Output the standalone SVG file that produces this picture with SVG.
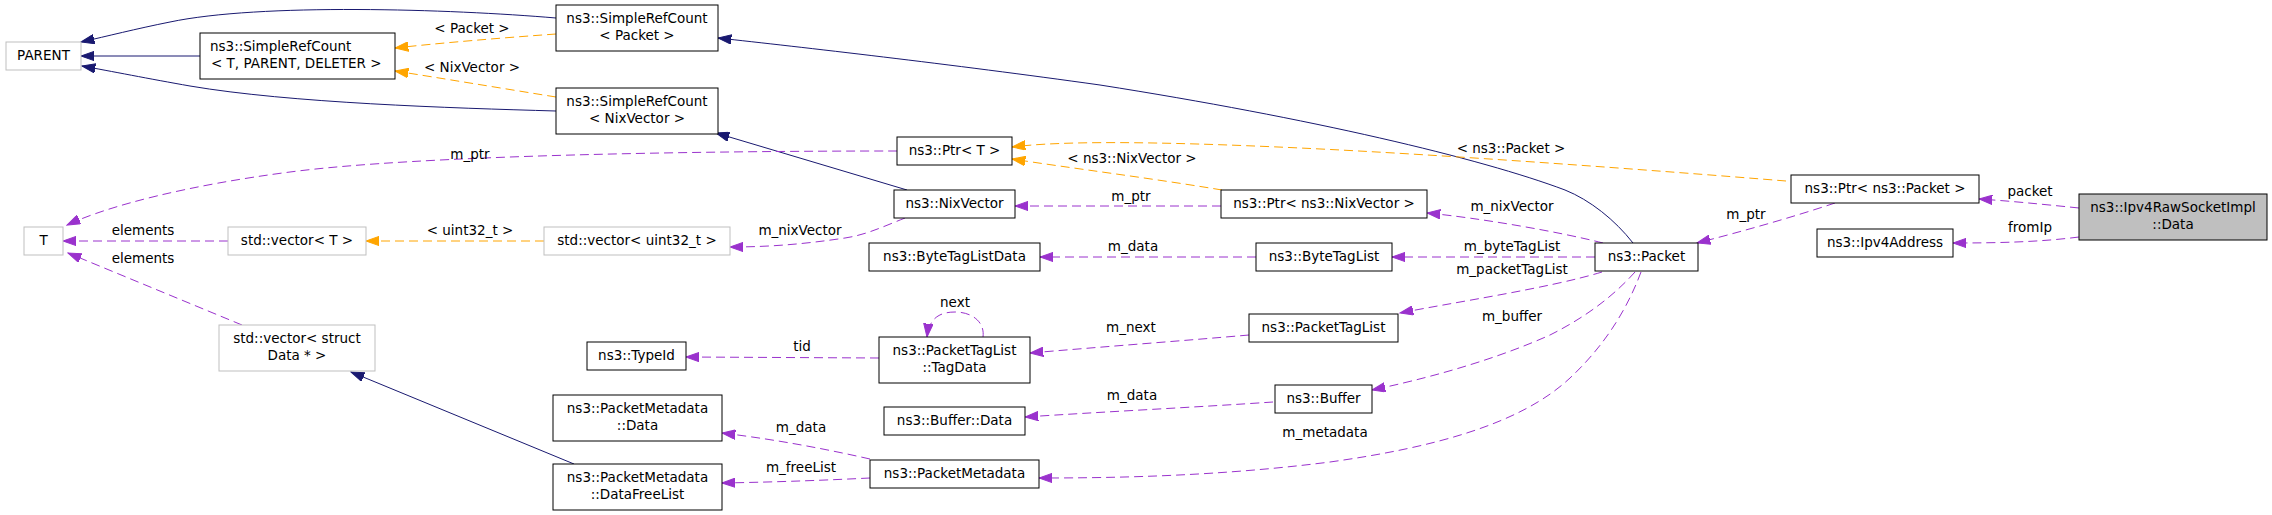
<svg xmlns="http://www.w3.org/2000/svg" width="2272" height="515" viewBox="0 0 2272 515">
<style>
text{font-family:"DejaVu Sans","Liberation Sans",sans-serif;font-size:13.5px;fill:#000}
.n rect{fill:#fff;stroke:#000;stroke-width:1}
.g rect{fill:#fff;stroke:#bfbfbf;stroke-width:1}
.m rect{fill:#bfbfbf;stroke:#000;stroke-width:1}
.n text,.g text,.m text,.lbl{text-anchor:middle}
.inh{fill:none;stroke:#191970;stroke-width:1;marker-end:url(#aN)}
.use{fill:none;stroke:#9a32cd;stroke-width:1;stroke-dasharray:9,5;marker-end:url(#aP)}
.tpl{fill:none;stroke:#ffa500;stroke-width:1;stroke-dasharray:9,5;marker-end:url(#aO)}
</style>
<defs>
<marker id="aN" markerUnits="userSpaceOnUse" viewBox="0 -5 14 10" markerWidth="14" markerHeight="10" refX="13.3" refY="0" orient="auto"><path d="M0,-4.7L13.3,0L0,4.7z" fill="#191970" stroke="#191970" stroke-width="1"/></marker>
<marker id="aP" markerUnits="userSpaceOnUse" viewBox="0 -5 14 10" markerWidth="14" markerHeight="10" refX="13.3" refY="0" orient="auto"><path d="M0,-4.7L13.3,0L0,4.7z" fill="#9a32cd" stroke="#9a32cd" stroke-width="1"/></marker>
<marker id="aO" markerUnits="userSpaceOnUse" viewBox="0 -5 14 10" markerWidth="14" markerHeight="10" refX="13.3" refY="0" orient="auto"><path d="M0,-4.7L13.3,0L0,4.7z" fill="#ffa500" stroke="#ffa500" stroke-width="1"/></marker>
</defs>
<rect width="2272" height="515" fill="#fff"/>
<g id="connectors">
<path class="inh" d="M200,56L81,56"/>
<path class="inh" d="M556,18C450,9 260,3 170,22C135,29 108,36 81,42"/>
<path class="inh" d="M556,111C450,108 290,103 190,86C150,79 110,71 82,66"/>
<path class="inh" d="M1633,243C1615,220 1590,200 1565,190C1480,158 1310,118 1100,85C950,64 800,47 718,38"/>
<path class="inh" d="M907,190L716,133"/>
<path class="inh" d="M574,464L351,372"/>
<path class="tpl" d="M556,34C500,38 440,43 395,48"/>
<path class="tpl" d="M556,97C500,88 440,78 395,71"/>
<path class="tpl" d="M1222,190C1150,178 1070,168 1012,159"/>
<path class="tpl" d="M1786,181C1650,170 1450,155 1300,148C1150,141 1060,141 1012,147"/>
<path class="tpl" d="M544,241L366,241"/>
<path class="use" d="M897,151C700,151 420,155 290,172C190,185 110,205 67,225"/>
<path class="use" d="M1221,206L1015,206"/>
<path class="use" d="M905,218C880,228 865,235 845,238C805,244 770,247 730,247"/>
<path class="use" d="M228,241L63,241"/>
<path class="use" d="M242,325L68,253"/>
<path class="use" d="M879,358L686,357"/>
<path class="use" d="M983,337C985,322 972,312 955,312C940,312 929,318 927,337"/>
<path class="use" d="M1249,335C1180,341 1100,347 1030,353"/>
<path class="use" d="M1273,402C1200,407 1100,412 1025,417"/>
<path class="use" d="M870,459C830,450 780,440 722,433"/>
<path class="use" d="M870,478C830,480 780,482 722,483"/>
<path class="use" d="M1256,257L1040,257"/>
<path class="use" d="M1603,243C1560,232 1480,218 1427,213"/>
<path class="use" d="M1595,257L1392,257"/>
<path class="use" d="M1602,272C1550,288 1450,303 1400,313"/>
<path class="use" d="M1635,272C1610,300 1580,320 1550,335C1490,362 1420,380 1372,390"/>
<path class="use" d="M1641,272C1625,315 1600,350 1570,378C1520,425 1430,448 1330,462C1220,476 1120,478 1039,478"/>
<path class="use" d="M1835,203C1790,218 1740,232 1697,243"/>
<path class="use" d="M2079,208C2040,204 2010,201 1979,199"/>
<path class="use" d="M2079,237C2040,242 2000,243 1953,243"/>
<text class="lbl" x="472" y="33">&lt; Packet &gt;</text>
<text class="lbl" x="472" y="72">&lt; NixVector &gt;</text>
<text class="lbl" x="1132" y="163">&lt; ns3::NixVector &gt;</text>
<text class="lbl" x="1511" y="153">&lt; ns3::Packet &gt;</text>
<text class="lbl" x="470" y="235">&lt; uint32_t &gt;</text>
<text class="lbl" x="470" y="159">m_ptr</text>
<text class="lbl" x="1131" y="201">m_ptr</text>
<text class="lbl" x="800" y="235">m_nixVector</text>
<text class="lbl" x="143" y="235">elements</text>
<text class="lbl" x="143" y="263">elements</text>
<text class="lbl" x="802" y="351">tid</text>
<text class="lbl" x="955" y="307">next</text>
<text class="lbl" x="1131" y="332">m_next</text>
<text class="lbl" x="1132" y="400">m_data</text>
<text class="lbl" x="801" y="432">m_data</text>
<text class="lbl" x="801" y="472">m_freeList</text>
<text class="lbl" x="1133" y="251">m_data</text>
<text class="lbl" x="1512" y="211">m_nixVector</text>
<text class="lbl" x="1512" y="251">m_byteTagList</text>
<text class="lbl" x="1512" y="274">m_packetTagList</text>
<text class="lbl" x="1512" y="321">m_buffer</text>
<text class="lbl" x="1325" y="437">m_metadata</text>
<text class="lbl" x="1746" y="219">m_ptr</text>
<text class="lbl" x="2030" y="196">packet</text>
<text class="lbl" x="2030" y="232">fromIp</text>
</g>
<g id="node-parent" class="g"><rect x="6" y="42" width="75" height="28"/><text x="43.5" y="60">PARENT</text></g>
<g id="node-simplerefcount" class="n"><rect x="200" y="33" width="195" height="46"/><text x="210" y="51" style="text-anchor:start">ns3::SimpleRefCount</text><text x="211" y="67.5" style="text-anchor:start">&lt; T, PARENT, DELETER &gt;</text></g>
<g id="node-src-packet" class="n"><rect x="556" y="5" width="162" height="46"/><text x="637" y="23">ns3::SimpleRefCount</text><text x="637" y="39.5">&lt; Packet &gt;</text></g>
<g id="node-src-nixvector" class="n"><rect x="556" y="88" width="162" height="46"/><text x="637" y="106">ns3::SimpleRefCount</text><text x="637" y="122.5">&lt; NixVector &gt;</text></g>
<g id="node-ptr-t" class="n"><rect x="897" y="137" width="115" height="28"/><text x="954.5" y="155">ns3::Ptr&lt; T &gt;</text></g>
<g id="node-nixvector" class="n"><rect x="894" y="190" width="121" height="28"/><text x="954.5" y="208">ns3::NixVector</text></g>
<g id="node-ptr-nixvector" class="n"><rect x="1221" y="190" width="206" height="28"/><text x="1324" y="208">ns3::Ptr&lt; ns3::NixVector &gt;</text></g>
<g id="node-t" class="g"><rect x="24" y="227" width="39" height="28"/><text x="43.5" y="245">T</text></g>
<g id="node-vector-t" class="g"><rect x="228" y="227" width="138" height="28"/><text x="297" y="245">std::vector&lt; T &gt;</text></g>
<g id="node-vector-uint32" class="g"><rect x="544" y="227" width="186" height="28"/><text x="637" y="245">std::vector&lt; uint32_t &gt;</text></g>
<g id="node-bytetaglistdata" class="n"><rect x="869" y="243" width="171" height="28"/><text x="954.5" y="261">ns3::ByteTagListData</text></g>
<g id="node-bytetaglist" class="n"><rect x="1256" y="243" width="136" height="28"/><text x="1324" y="261">ns3::ByteTagList</text></g>
<g id="node-packet" class="n"><rect x="1595" y="243" width="103" height="28"/><text x="1646.5" y="261">ns3::Packet</text></g>
<g id="node-ptr-packet" class="n"><rect x="1791" y="175" width="188" height="28"/><text x="1885" y="193">ns3::Ptr&lt; ns3::Packet &gt;</text></g>
<g id="node-ipv4address" class="n"><rect x="1817" y="229" width="136" height="28"/><text x="1885" y="247">ns3::Ipv4Address</text></g>
<g id="node-rawsocket-data" class="m"><rect x="2079" y="194" width="188" height="46"/><text x="2173" y="212">ns3::Ipv4RawSocketImpl</text><text x="2173" y="228.5">::Data</text></g>
<g id="node-vector-struct-data" class="g"><rect x="219" y="325" width="156" height="46"/><text x="297" y="343">std::vector&lt; struct</text><text x="297" y="359.5">Data * &gt;</text></g>
<g id="node-typeid" class="n"><rect x="587" y="342" width="99" height="28"/><text x="636.5" y="360">ns3::TypeId</text></g>
<g id="node-tagdata" class="n"><rect x="879" y="337" width="151" height="46"/><text x="954.5" y="355">ns3::PacketTagList</text><text x="954.5" y="371.5">::TagData</text></g>
<g id="node-packettaglist" class="n"><rect x="1249" y="314" width="149" height="28"/><text x="1323.5" y="332">ns3::PacketTagList</text></g>
<g id="node-buffer" class="n"><rect x="1275" y="385" width="97" height="28"/><text x="1323.5" y="403">ns3::Buffer</text></g>
<g id="node-buffer-data" class="n"><rect x="884" y="407" width="141" height="28"/><text x="954.5" y="425">ns3::Buffer::Data</text></g>
<g id="node-pm-data" class="n"><rect x="553" y="395" width="169" height="46"/><text x="637.5" y="413">ns3::PacketMetadata</text><text x="637.5" y="429.5">::Data</text></g>
<g id="node-pm-freelist" class="n"><rect x="553" y="464" width="169" height="46"/><text x="637.5" y="482">ns3::PacketMetadata</text><text x="637.5" y="498.5">::DataFreeList</text></g>
<g id="node-packetmetadata" class="n"><rect x="870" y="460" width="169" height="28"/><text x="954.5" y="478">ns3::PacketMetadata</text></g>
</svg>
